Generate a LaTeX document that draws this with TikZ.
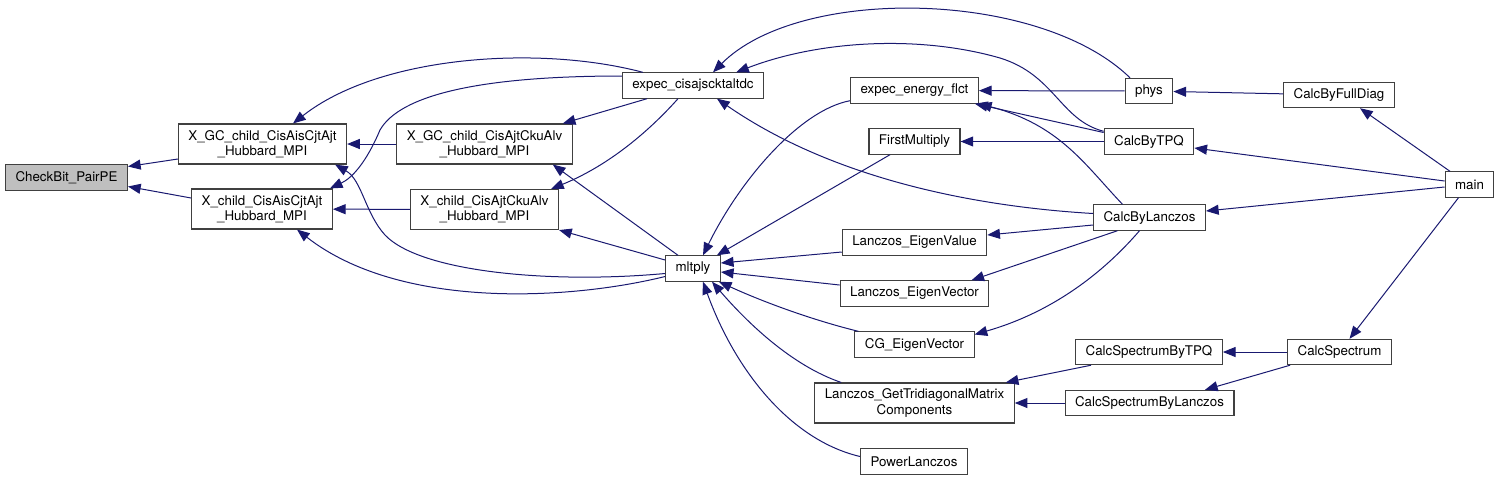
\documentclass[tikz,border=0pt]{standalone}
\usepackage{fontspec}
\setmainfont{TeX Gyre Heros}
\usepackage{tikz}
\usetikzlibrary{arrows.meta, calc}
\definecolor{edgeblue}{HTML}{191970}

\begin{document}
\begin{tikzpicture}[x=0.75pt, y=-0.75pt, >={Triangle[length=9.5pt, width=7.5pt]},
    fn/.style={draw=black!75, line width=0.8pt, fill=white, inner xsep=7.5pt, inner ysep=0pt,
               minimum height=19pt, align=center, font=\fontsize{10}{11.5}\selectfont},
    fn2/.style={fn, minimum height=30pt},
    call/.style={->, draw=edgeblue, line width=0.75pt}]
    \useasboundingbox (0,0) rectangle (1500,480);
    % Functions
    \node[fn, fill=black!25] (checkbit) at (66.5,177.5) {CheckBit\_PairPE};
    \node[fn2] (xgcaa) at (262.5,144) {X\_GC\_child\_CisAisCjtAjt\\\_Hubbard\_MPI};
    \node[fn2] (xcaa) at (262,209) {X\_child\_CisAisCjtAjt\\\_Hubbard\_MPI};
    \node[fn2] (xgcck) at (484.5,144) {X\_GC\_child\_CisAjtCkuAlv\\\_Hubbard\_MPI};
    \node[fn2] (xcck) at (484.5,209.5) {X\_child\_CisAjtCkuAlv\\\_Hubbard\_MPI};
    \node[fn] (expcis) at (693,85.5) {expec\_cisajscktaltdc};
    \node[fn] (mltply) at (693,268.5) {mltply};
    \node[fn] (expene) at (914.5,90.5) {expec\_energy\_flct};
    \node[fn] (firstm) at (914.5,141.5) {FirstMultiply};
    \node[fn] (leval) at (914.5,242.5) {Lanczos\_EigenValue};
    \node[fn] (levec) at (914.5,293.5) {Lanczos\_EigenVector};
    \node[fn] (cgvec) at (914.5,344.5) {CG\_EigenVector};
    \node[fn2] (lgtri) at (914.5,403) {Lanczos\_GetTridiagonalMatrix\\Components};
    \node[fn] (power) at (914,461.5) {PowerLanczos};
    \node[fn] (phys) at (1149,91) {phys};
    \node[fn] (bytpq) at (1149,141.5) {CalcByTPQ};
    \node[fn] (bylan) at (1149.5,217.5) {CalcByLanczos};
    \node[fn] (spectpq) at (1149,352) {CalcSpectrumByTPQ};
    \node[fn] (speclan) at (1149.5,403) {CalcSpectrumByLanczos};
    \node[fn] (fulldiag) at (1339,95) {CalcByFullDiag};
    \node[fn] (spectrum) at (1339.5,352) {CalcSpectrum};
    \node[fn] (main) at (1469.5,184.5) {main};

    % Callers of CheckBit_PairPE
    \draw[call] ($(xgcaa.west)+(0,15)$) -- ($(checkbit.east)+(0,-11)$);
    \draw[call] ($(xcaa.west)+(0,-11)$) -- ($(checkbit.east)+(0,9)$);
    % Callers of the X_ functions
    \draw[call] (xgcck) -- (xgcaa);
    \draw[call] (xcck) -- (xcaa);
    \draw[call] ($(expcis.north west)+(21,0)$) .. controls (540,45) and (380,55) .. ($(xgcaa.north)+(30.5,0)$);
    \draw[call] ($(expcis.west)+(0,-9.5)$) .. controls (480,76) and (400,95) .. (380,130)
        .. controls (366,163) and (352,178) .. ($(xcaa.north east)+(-3,0)$);
    \draw[call] ($(mltply.west)+(0,5)$) .. controls (550,284) and (420,272) .. (385,235)
        .. controls (365,213) and (362,180) .. ($(xgcaa.south east)+(-12,0)$);
    \draw[call] ($(mltply.west)+(0,8)$) .. controls (570,300) and (400,310) .. ($(xcaa.south)+(35,0)$);
    \draw[call] ($(expcis.south)+(-46,0)$) -- ($(xgcck.north east)+(-10,0)$);
    \draw[call] ($(expcis.south)+(-15,0)$) .. controls (650,130) and (610,165) .. ($(xcck.north east)+(-8,0)$);
    \draw[call] ($(mltply.north)+(-15,0)$) -- ($(xgcck.south east)+(-20,0)$);
    \draw[call] ($(mltply.west)+(0,-8.5)$) -- (xcck.south east);
    % Callers of expec_cisajscktaltdc
    \draw[call] ($(phys.north)+(-19,0)$) .. controls (1040,-10) and (800,-15) .. ($(expcis.north)+(20,0)$);
    \draw[call] ($(bytpq.north west)+(0,3)$) .. controls (1060,120) and (1055,75) .. (1000,58)
        .. controls (920,35) and (820,40) .. ($(expcis.north east)+(-28,0)$);
    \draw[call] ($(bylan.west)+(0,-4)$) .. controls (950,205) and (820,170) .. ($(expcis.south)+(24,0)$);
    % Callers of mltply
    \draw[call] ($(expene.south west)+(0,-3)$) .. controls (800,110) and (740,180) .. ($(mltply.north)+(10,0)$);
    \draw[call] ($(firstm.south)+(-24.5,0)$) -- ($(mltply.north east)+(-4,0)$);
    \draw[call] ($(leval.west)+(0,9.5)$) -- ($(mltply.east)+(0,-5.5)$);
    \draw[call] ($(levec.west)+(0,-8.5)$) -- ($(mltply.east)+(0,3.5)$);
    \draw[call] ($(cgvec.north west)+(4,0)$) .. controls (820,322) and (770,305) .. ($(mltply.south east)+(-2,0)$);
    \draw[call] ($(lgtri.north west)+(27,0)$) .. controls (790,365) and (745,320) .. ($(mltply.south)+(19,0)$);
    \draw[call] ($(power.west)+(0,-5)$) .. controls (790,440) and (735,370) .. ($(mltply.south)+(10,0)$);
    % Callers of expec_energy_flct and FirstMultiply
    \draw[call] (phys) -- (expene);
    \draw[call] ($(bytpq.west)+(0,-9)$) -- ($(expene.south east)+(-4,0)$);
    \draw[call] ($(bylan.north)+(-27,0)$) .. controls (1085,165) and (1060,125) .. (expene.south east);
    \draw[call] (bytpq) -- (firstm);
    % Callers of the Lanczos routines
    \draw[call] ($(bylan.west)+(0,7.5)$) -- ($(leval.east)+(0,-7.5)$);
    \draw[call] ($(bylan.south)+(-32,0)$) -- ($(levec.north east)+(-18,0)$);
    \draw[call] ($(bylan.south)+(-10,0)$) .. controls (1110,265) and (1060,310) .. ($(cgvec.east)+(0,-10)$);
    \draw[call] ($(spectpq.south west)+(16,0)$) -- ($(lgtri.north east)+(-9,0)$);
    \draw[call] (speclan) -- (lgtri);
    % Top level
    \draw[call] (fulldiag) -- (phys);
    \draw[call] (spectrum) -- (spectpq);
    \draw[call] ($(spectrum.south west)+(3,0)$) -- ($(speclan.north)+(55.5,0)$);
    \draw[call] ($(main.north)+(-19.5,0)$) -- ($(fulldiag.south)+(21,0)$);
    \draw[call] ($(main.west)+(0,-3.5)$) -- ($(bytpq.east)+(0,6.5)$);
    \draw[call] ($(main.west)+(0,2.5)$) -- ($(bylan.east)+(0,-6.5)$);
    \draw[call] ($(main.south)+(-11,0)$) -- ($(spectrum.north)+(10,0)$);
\end{tikzpicture}
\end{document}
